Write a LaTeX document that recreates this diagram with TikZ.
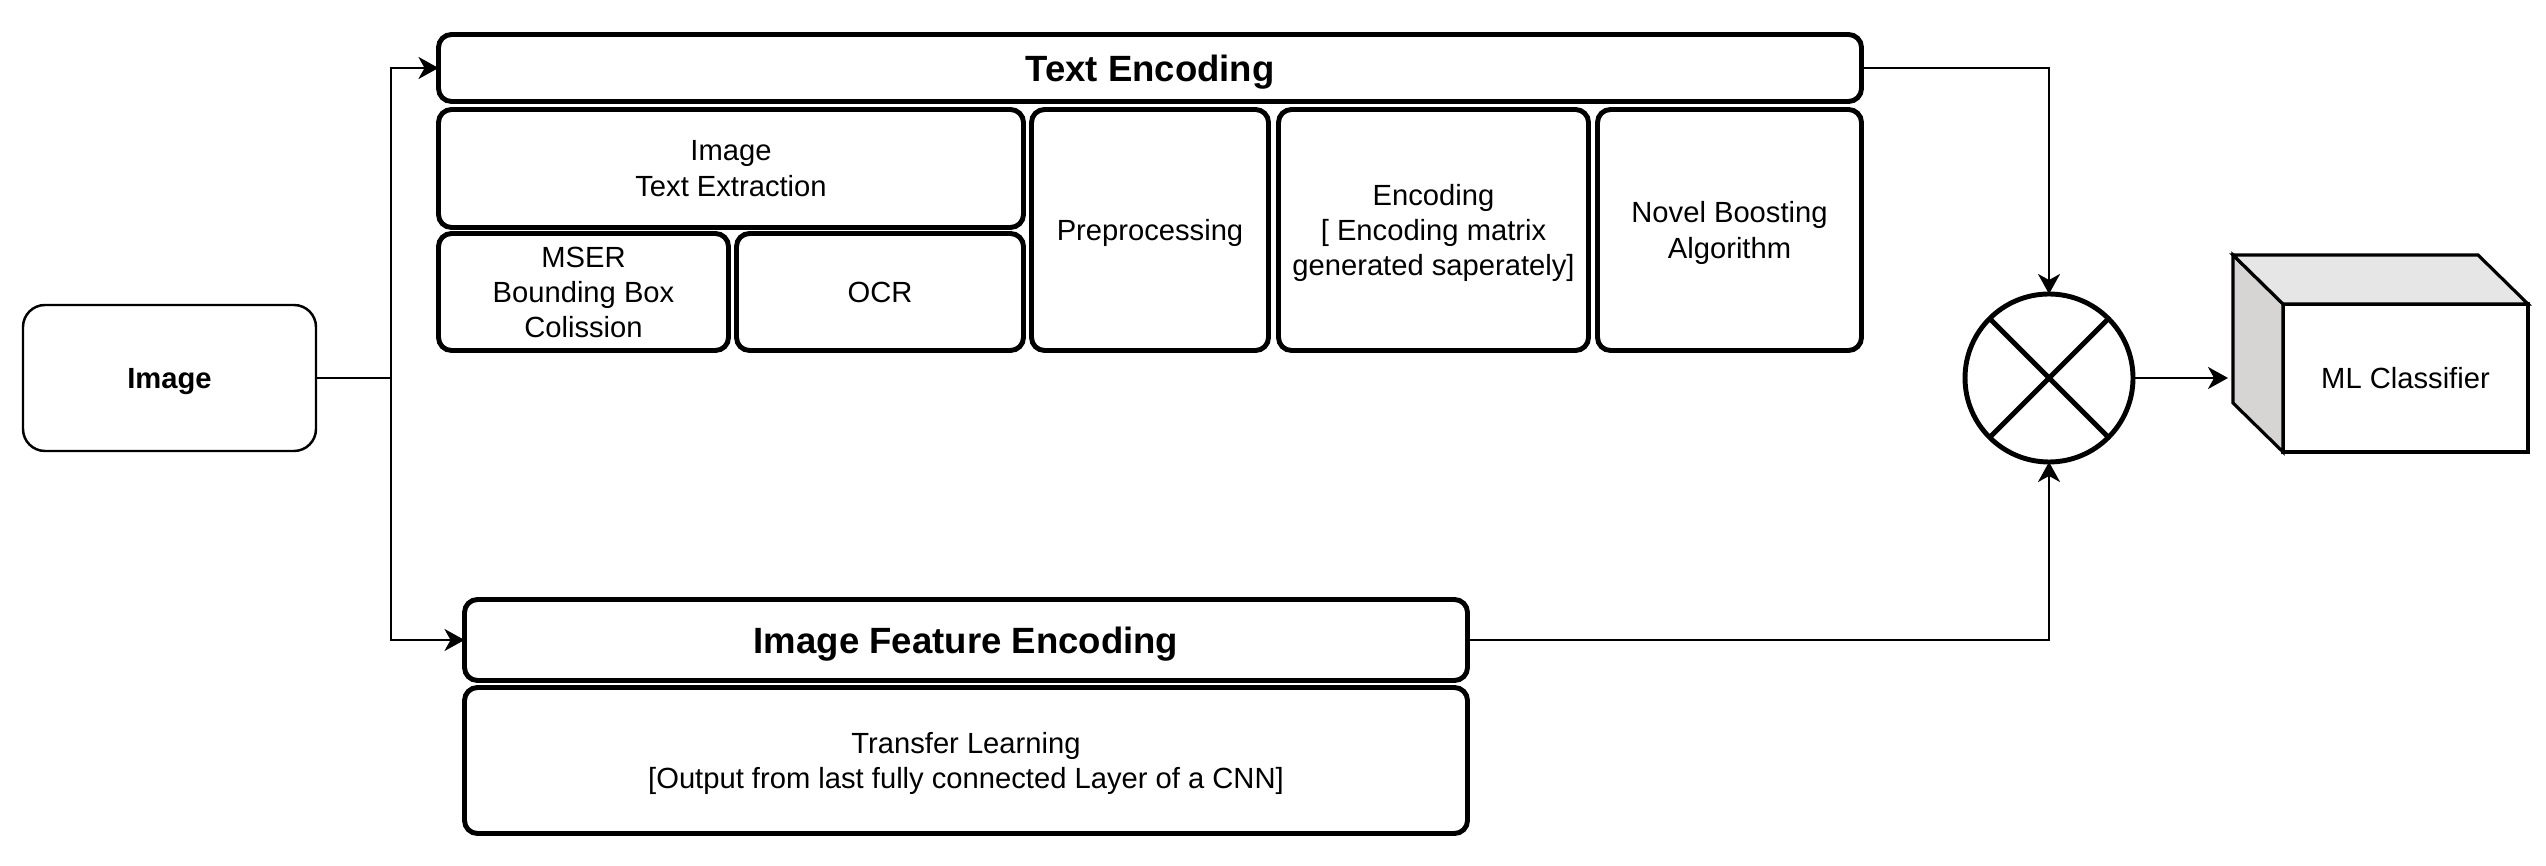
\documentclass[tikz,border=0pt]{standalone}
\usepackage{fontspec}
\setmainfont{Liberation Sans}
\usetikzlibrary{positioning, arrows.meta, calc}
\definecolor{cubeside}{HTML}{D7D4D4}
\definecolor{cubetop}{HTML}{E6E6E6}

\begin{document}
\begin{tikzpicture}[
    cell/.style={draw, line width=1.4pt, rounded corners=0.13cm, inner sep=0pt, outer sep=0pt, text depth=0pt, align=center, font=\fontsize{8.3}{10}\selectfont},
    head/.style={cell, text depth=-0.04cm, font=\fontsize{10.4}{12}\selectfont\bfseries},
    arr/.style={line width=0.7pt, -{Stealth[length=0.2cm, width=0.22cm, inset=0.06cm]}},
  ]
  \useasboundingbox (0,0) rectangle (25.46,8.66);
  \node[draw, line width=0.7pt, rounded corners=0.22cm, outer sep=0pt, text depth=0pt, minimum width=2.93cm, minimum height=1.46cm, font=\fontsize{8.3}{10}\selectfont\bfseries] (img) at (1.695,4.88) {Image};

  \node[head, minimum width=14.23cm, minimum height=0.67cm] (txthead) at (11.50,7.98) {Text Encoding};
  \node[cell, minimum width=5.85cm, minimum height=1.18cm, below right=0.08cm and 0cm of txthead.south west] (extract) {Image\\Text Extraction};
  \node[cell, minimum width=2.90cm, minimum height=1.17cm, below right=0.06cm and 0cm of extract.south west] (mser) {MSER\\Bounding Box\\Colission};
  \node[cell, minimum width=2.87cm, minimum height=1.17cm, right=0.08cm of mser] (ocr) {OCR};
  \node[cell, minimum width=2.37cm, minimum height=2.41cm, below right=0cm and 0.08cm of extract.north east] (prep) {Preprocessing};
  \node[cell, minimum width=3.10cm, minimum height=2.41cm, right=0.10cm of prep] (enc) {Encoding\\{[} Encoding matrix\\generated saperately{]}};
  \node[cell, minimum width=2.64cm, minimum height=2.41cm, right=0.09cm of enc] (boost) {Novel Boosting\\Algorithm};

  \node[head, minimum width=10.03cm, minimum height=0.81cm] (imghead) at (9.66,2.26) {Image Feature Encoding};
  \node[cell, minimum width=10.03cm, minimum height=1.46cm, below=0.07cm of imghead] (transfer) {Transfer Learning\\{[}Output from last fully connected Layer of a CNN{]}};

  \node[circle, draw, line width=1.4pt, outer sep=0pt, minimum size=1.68cm, inner sep=0pt] (mult) at (20.49,4.88) {};
  \draw[line width=1.4pt] (mult.north west) -- (mult.south east) (mult.north east) -- (mult.south west);

  \node[draw, line width=0.9pt, fill=white, outer sep=0pt, text depth=0pt, minimum width=2.45cm, minimum height=1.48cm, font=\fontsize{8.3}{10}\selectfont] (clf) at (24.055,4.88) {ML Classifier};
  \draw[line width=0.9pt, fill=cubeside] (clf.north west) -- ++(-0.5,0.49) -- ++(0,-1.48) -- (clf.south west) -- cycle;
  \draw[line width=0.9pt, fill=cubetop] (clf.north east) -- ++(-0.5,0.49) -- ++(-2.45,0) -- (clf.north west) -- cycle;

  \coordinate (fork) at (3.91,4.88);
  \coordinate (clfin) at ($(clf.west)+(-0.55,0)$);
  \draw[arr] (img.east) -- (fork) |- (txthead.west);
  \draw[arr] (fork) |- (imghead.west);
  \draw[arr] (txthead.east) -| (mult.north);
  \draw[arr] (imghead.east) -| (mult.south);
  \draw[arr] (mult.east) -- (clfin);
\end{tikzpicture}
\end{document}
